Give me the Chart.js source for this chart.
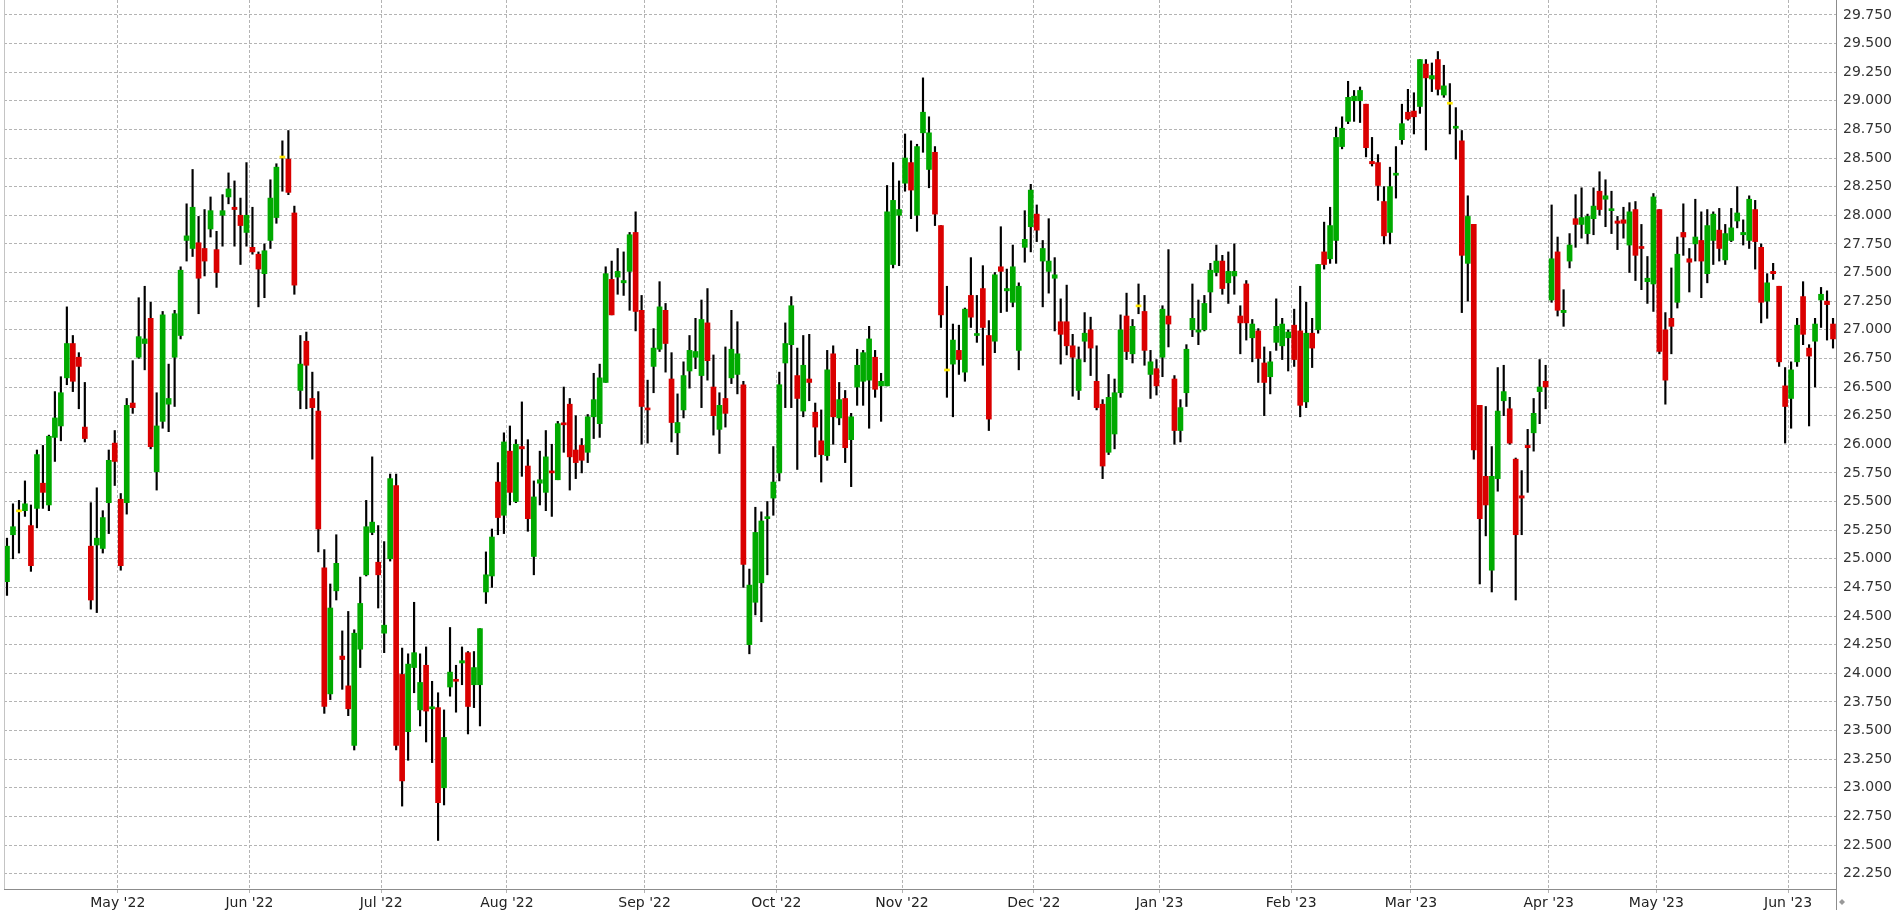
<!DOCTYPE html>
<html>
<head>
<meta charset="utf-8">
<script src="https://cdn.jsdelivr.net/npm/chart.js@4.4.1/dist/chart.umd.min.js"></script>
<style>
  html, body { margin: 0; padding: 0; background: #fff; }
  #wrap { width: 1895px; height: 914px; }
</style>
</head>
<body>
<div id="wrap"><canvas id="chart" width="1895" height="914"></canvas></div>
<script>
// trading days (weekdays minus exchange holidays)
const firstDay = '2022-04-01';
const lastDay = '2023-06-12';
const holidays = ['2022-04-15', '2022-04-18', '2022-12-26', '2023-04-07', '2023-04-10', '2023-05-01'];
const monthNames = ['Jan', 'Feb', 'Mar', 'Apr', 'May', 'Jun', 'Jul', 'Aug', 'Sep', 'Oct', 'Nov', 'Dec'];

const opens = [
  24.80,25.21,25.41,25.42,25.29,25.44,25.66,25.47,26.06,26.16,
  26.58,26.88,26.76,26.15,25.11,25.12,25.09,25.49,26.01,25.52,
  25.49,26.36,26.76,26.88,27.10,25.76,26.20,26.35,26.76,26.95,
  27.78,27.71,27.76,27.71,27.88,27.70,28.00,28.16,28.07,28.00,
  27.85,27.72,27.66,27.49,27.78,27.98,28.50,28.49,28.02,26.47,
  26.90,26.40,26.29,24.92,23.82,24.72,24.15,23.89,23.37,24.21,
  24.86,25.23,24.97,24.35,25.00,25.64,23.99,23.49,24.05,23.68,
  24.07,23.69,23.70,23.00,23.88,23.94,24.09,24.18,23.90,23.90,
  24.71,24.85,25.67,25.38,25.94,25.50,25.98,25.81,25.02,25.66,
  25.58,25.76,25.69,26.18,26.35,25.95,25.99,25.93,26.24,26.18,
  26.54,27.44,27.46,27.41,27.51,27.85,27.17,26.31,26.68,26.83,
  27.17,26.57,26.10,26.30,26.64,26.76,26.60,27.06,26.50,26.13,
  26.40,26.58,26.61,26.52,24.25,24.62,24.79,25.35,25.53,25.75,
  26.71,26.87,26.60,26.29,26.57,26.28,26.03,25.90,26.79,26.23,
  26.40,26.04,26.50,26.55,26.56,26.76,26.51,26.51,27.57,28.00,
  28.28,28.46,28.00,28.72,28.40,28.55,27.91,26.64,26.70,26.82,
  26.63,27.30,26.95,27.36,26.95,26.90,27.55,27.34,27.24,26.82,
  27.72,27.90,28.01,27.60,27.51,27.45,27.07,27.07,26.86,26.47,
  26.90,27.00,26.55,26.35,25.93,26.09,26.45,27.12,26.79,27.20,
  27.16,26.61,26.66,26.76,27.12,26.57,26.12,26.45,27.00,26.98,
  27.00,27.33,27.50,27.60,27.41,27.47,27.12,27.40,26.93,26.99,
  26.71,26.59,26.89,26.86,26.93,27.04,26.99,26.37,26.97,27.00,
  27.68,27.62,27.78,28.60,28.82,29.00,29.00,28.97,28.47,28.46,
  28.12,27.85,28.35,28.66,28.90,28.91,28.95,29.32,29.19,29.36,
  29.05,28.97,28.76,28.65,27.58,27.92,26.34,25.72,24.90,25.70,
  26.38,26.31,25.87,25.55,25.99,26.10,26.46,26.55,27.26,27.68,
  27.15,27.60,27.97,27.92,27.84,27.97,28.21,28.14,28.04,27.95,
  27.96,27.74,28.05,27.72,27.42,27.40,28.05,27.00,27.10,27.24,
  27.85,27.62,27.75,27.78,27.49,27.78,27.87,27.61,27.78,27.95,
  27.83,27.78,28.05,27.72,27.25,27.51,27.38,26.51,26.40,26.72,
  27.29,26.84,26.90,27.26,27.25,27.05
];
const highs = [
  25.18,25.48,25.51,25.68,25.47,25.95,25.99,26.08,26.46,26.59,
  27.20,26.95,26.80,26.54,25.49,25.62,25.42,25.95,26.12,25.57,
  26.40,26.73,27.28,27.38,27.24,26.45,27.16,26.70,27.17,27.55,
  28.10,28.40,27.99,28.05,28.16,27.86,28.18,28.37,28.30,28.15,
  28.46,28.07,27.68,27.75,28.31,28.45,28.65,28.74,28.08,26.95,
  26.98,26.63,26.46,25.08,24.78,25.21,24.37,24.54,24.38,24.84,
  25.51,25.89,25.29,25.15,25.74,25.74,24.22,24.17,24.62,24.17,
  24.23,23.93,23.83,23.68,24.40,24.07,24.23,24.19,24.19,24.39,
  25.06,25.26,25.84,26.10,26.16,26.04,26.37,26.04,25.68,25.94,
  26.12,26.00,26.20,26.50,26.40,26.25,26.05,26.26,26.62,26.70,
  27.55,27.60,27.71,27.68,27.85,28.03,27.30,26.56,27.01,27.42,
  27.23,26.80,26.44,26.72,26.95,27.10,27.26,27.36,26.78,26.45,
  26.85,27.17,27.07,26.55,24.91,25.45,25.41,25.50,25.98,26.63,
  27.06,27.29,26.84,26.95,26.96,26.36,26.30,26.82,26.86,26.54,
  26.47,26.27,26.83,26.82,27.03,26.82,26.62,28.26,28.46,28.30,
  28.71,28.65,28.62,29.20,28.86,28.60,27.91,27.38,27.05,27.04,
  27.19,27.63,27.30,27.56,27.08,27.50,27.90,27.53,27.74,27.41,
  28.04,28.27,28.09,27.78,27.97,27.63,27.27,27.39,26.96,26.85,
  27.15,27.11,26.86,26.39,26.61,26.57,27.13,27.32,27.09,27.40,
  27.30,26.82,26.74,27.21,27.70,26.60,26.39,26.87,27.40,27.26,
  27.30,27.58,27.74,27.65,27.68,27.75,27.21,27.43,27.09,27.01,
  26.85,26.81,27.27,27.10,27.00,27.18,27.38,27.24,27.10,27.57,
  27.94,28.07,28.77,28.86,29.17,29.09,29.12,28.97,28.68,28.53,
  28.25,28.42,28.60,28.97,29.10,29.07,29.36,29.36,29.33,29.43,
  29.31,29.15,28.94,28.74,28.17,27.92,26.34,26.33,25.98,26.67,
  26.69,26.41,25.88,25.77,26.13,26.40,26.74,26.69,28.09,27.81,
  27.35,27.84,28.18,28.24,28.01,28.24,28.38,28.31,28.21,27.99,
  28.07,28.11,28.12,27.92,27.64,28.19,28.05,27.15,27.54,27.81,
  28.10,27.71,28.14,28.03,28.05,28.03,28.06,27.92,28.06,28.25,
  27.96,28.17,28.13,27.75,27.49,27.58,27.38,26.67,26.72,27.10,
  27.42,26.87,27.10,27.37,27.34,27.10
];
const lows = [
  24.68,25.00,25.05,25.37,24.89,25.27,25.44,25.42,25.85,26.03,
  26.52,26.46,26.31,26.02,24.56,24.53,25.05,25.22,25.64,24.90,
  25.39,26.27,26.75,26.65,25.96,25.60,26.14,26.11,26.33,26.92,
  27.60,27.64,27.14,27.47,27.81,27.37,27.73,28.10,27.73,27.57,
  27.73,27.66,27.20,27.28,27.71,27.93,28.21,28.18,27.31,26.31,
  26.31,25.87,25.06,23.65,23.77,24.64,23.86,23.63,23.33,24.05,
  24.85,25.21,24.57,24.18,24.98,23.33,22.84,23.24,23.83,23.54,
  23.40,23.22,22.54,22.85,23.80,23.66,23.90,23.47,23.70,23.54,
  24.61,24.75,25.21,25.22,25.47,25.49,25.72,25.24,24.86,25.47,
  25.42,25.37,25.69,25.93,25.60,25.70,25.75,25.84,26.05,26.06,
  26.54,27.13,27.31,27.30,27.17,26.99,26.00,26.01,26.45,26.81,
  26.63,26.02,25.91,26.23,26.49,26.66,26.32,26.56,26.08,25.92,
  26.15,26.53,26.44,24.75,24.17,24.51,24.45,24.86,25.38,25.68,
  26.32,26.32,25.78,26.24,26.38,25.89,25.67,25.86,26.00,26.17,
  25.84,25.63,26.34,26.34,26.14,26.41,26.20,26.51,27.54,27.56,
  28.21,27.97,27.86,28.55,28.24,27.91,27.02,26.41,26.24,26.61,
  26.55,27.02,26.89,26.69,26.12,26.80,27.15,27.16,27.20,26.65,
  27.59,27.68,27.77,27.20,27.32,26.99,26.70,26.78,26.42,26.39,
  26.72,26.60,26.30,25.70,25.91,25.96,26.41,26.74,26.71,27.14,
  26.69,26.40,26.43,26.59,26.85,26.00,26.02,26.33,26.94,26.87,
  26.99,27.15,27.47,27.31,27.23,27.31,26.79,26.91,26.72,26.54,
  26.25,26.44,26.82,26.74,26.64,26.68,26.24,26.32,26.67,26.97,
  27.53,27.58,27.58,28.58,28.80,28.82,28.81,28.51,28.43,28.13,
  27.75,27.75,28.15,28.62,28.83,28.71,28.89,28.57,29.08,29.05,
  29.03,28.71,28.49,27.15,27.25,25.87,24.78,25.20,24.71,25.59,
  26.25,26.00,24.64,25.21,25.58,25.94,26.18,26.31,27.24,27.12,
  27.03,27.54,27.72,27.80,27.75,27.83,28.00,27.90,27.84,27.70,
  27.80,27.50,27.43,27.35,27.23,27.16,26.79,26.35,26.79,27.19,
  27.65,27.33,27.60,27.28,27.41,27.57,27.60,27.57,27.77,27.89,
  27.74,27.71,27.53,27.06,27.10,27.44,26.68,26.01,26.14,26.68,
  26.87,26.16,26.50,27.02,26.91,26.84
];
const closes = [
  25.11,25.28,25.41,25.48,24.94,25.91,25.58,26.07,26.23,26.45,
  26.88,26.55,26.68,26.05,24.64,25.18,25.36,25.86,25.85,24.94,
  26.34,26.32,26.94,26.92,25.98,26.16,27.13,26.40,27.14,27.52,
  27.82,28.07,27.45,27.60,28.04,27.50,28.04,28.23,28.05,27.91,
  28.00,27.68,27.53,27.69,28.15,28.42,28.50,28.20,27.39,26.70,
  26.69,26.32,25.26,23.71,24.57,24.96,24.12,23.69,24.35,24.61,
  25.28,25.32,24.86,24.42,25.70,23.37,23.06,24.08,24.18,23.92,
  23.67,23.70,22.87,23.44,24.01,23.93,24.11,23.71,24.05,24.39,
  24.86,25.19,25.36,26.02,25.58,26.00,25.96,25.35,25.54,25.69,
  25.89,25.75,26.18,26.17,25.89,25.84,25.86,26.24,26.39,26.58,
  27.49,27.13,27.51,27.43,27.83,27.16,26.33,26.30,26.84,27.20,
  26.88,26.19,26.19,26.60,26.82,26.81,27.09,26.73,26.25,26.34,
  26.27,26.83,26.79,24.95,24.77,25.23,25.33,25.36,25.67,26.52,
  26.88,27.21,26.40,26.69,26.54,26.15,25.91,26.65,26.24,26.39,
  25.97,26.24,26.69,26.80,26.92,26.48,26.55,28.03,28.13,28.05,
  28.50,28.22,28.60,28.90,28.72,28.01,27.13,26.64,26.91,26.74,
  27.18,27.11,26.96,27.02,26.22,27.48,27.51,27.36,27.55,27.38,
  27.79,28.22,27.87,27.71,27.60,27.48,26.96,26.86,26.76,26.74,
  26.97,26.84,26.32,25.81,26.41,26.45,27.00,26.81,27.03,27.20,
  26.82,26.72,26.51,27.18,27.05,26.12,26.32,26.83,27.10,26.99,
  27.23,27.52,27.60,27.36,27.51,27.51,27.06,27.06,27.05,26.75,
  26.54,26.72,27.03,27.05,26.98,26.74,26.34,26.97,26.84,27.57,
  27.57,27.91,28.68,28.76,29.03,29.04,29.09,28.59,28.45,28.26,
  27.82,28.25,28.36,28.80,28.84,28.86,29.36,29.20,29.22,29.10,
  29.13,28.97,28.77,27.65,27.99,25.95,25.35,25.47,25.72,26.29,
  26.46,26.01,25.21,25.53,25.97,26.27,26.50,26.50,27.62,27.17,
  27.17,27.74,27.92,27.98,27.99,28.08,28.05,28.17,28.05,27.93,
  27.93,28.03,27.65,27.71,27.45,28.16,26.81,26.56,27.03,27.66,
  27.81,27.59,27.81,27.60,27.91,28.01,27.71,27.84,27.89,28.02,
  27.85,28.14,27.77,27.24,27.41,27.49,26.72,26.33,26.65,27.04,
  26.96,26.77,27.05,27.31,27.22,26.92
];

const yMin = 22.116;
const yMax = 29.88;
const yStep = 0.25;

const upColor = 'rgb(0,170,0)';
const downColor = 'rgb(218,0,0)';
const flatColor = 'rgb(255,232,0)';
const gridColor = '#b4b4b4';
const axisColor = '#8c8c8c';
const fontFamily = '"DejaVu Sans", Verdana, sans-serif';

const tradingDays = (from, to) => {
    const out = [];
    const d = new Date(from + 'T00:00:00Z');
    const end = new Date(to + 'T00:00:00Z');
    while (d <= end) {
        const iso = d.toISOString().slice(0, 10);
        const wd = d.getUTCDay();
        if (wd !== 0 && wd !== 6 && !holidays.includes(iso)) out.push(iso);
        d.setUTCDate(d.getUTCDate() + 1);
    }
    return out;
}

const dates = tradingDays(firstDay, lastDay);
const isMonthStart = dates.map((d, i) => i > 0 && d.slice(0, 7) !== dates[i - 1].slice(0, 7));
const monthLabel = d => monthNames[+d.slice(5, 7) - 1] + " '" + d.slice(2, 4);

const bodyColors = opens.map((o, i) => closes[i] > o ? upColor : (closes[i] < o ? downColor : flatColor));

const noPadding = scale => {
    scale.paddingTop = 0;
    scale.paddingBottom = 0;
    scale.paddingLeft = 0;
    scale.paddingRight = 0;
}

const framePlugin = {
    id: 'frame',
    afterDraw(chart) {
        const {ctx, chartArea: a} = chart;
        ctx.save();
        ctx.lineWidth = 1;
        ctx.strokeStyle = '#c4c4c4';
        ctx.beginPath();
        ctx.moveTo(Math.round(a.left) + 0.5, a.top);
        ctx.lineTo(Math.round(a.left) + 0.5, a.bottom);
        ctx.stroke();
        ctx.strokeStyle = axisColor;
        ctx.beginPath();
        ctx.moveTo(a.left, Math.round(a.bottom) + 0.5);
        ctx.lineTo(a.right, Math.round(a.bottom) + 0.5);
        ctx.moveTo(Math.round(a.right) + 0.5, a.top);
        ctx.lineTo(Math.round(a.right) + 0.5, a.bottom + 21);
        ctx.stroke();
        // little marker in the corner
        const mx = a.right + 6, my = a.bottom + 13;
        ctx.fillStyle = '#999';
        ctx.beginPath();
        ctx.moveTo(mx - 3, my);
        ctx.lineTo(mx, my - 3);
        ctx.lineTo(mx + 3, my);
        ctx.lineTo(mx, my + 3);
        ctx.closePath();
        ctx.fill();
        ctx.restore();
    }
};

Chart.defaults.font.family = fontFamily;

new Chart(document.getElementById('chart'), {
    type: 'bar',
    data: {
        labels: dates,
        datasets: [
            {
                label: 'Body',
                data: opens.map((o, i) => [o, closes[i]]),
                backgroundColor: bodyColors,
                barThickness: 5,
                minBarLength: 2,
                grouped: false,
                order: 0
            },
            {
                label: 'Wick',
                data: lows.map((l, i) => [l, highs[i]]),
                backgroundColor: '#000',
                barThickness: 1.5,
                grouped: false,
                order: 1
            }
        ]
    },
    options: {
        responsive: false,
        devicePixelRatio: 1,
        animation: false,
        layout: {padding: {left: 4, top: 0, right: 0, bottom: 0}},
        plugins: {
            legend: {display: false},
            tooltip: {enabled: false}
        },
        scales: {
            x: {
                type: 'category',
                offset: true,
                afterFit: scale => { scale.height = 25; noPadding(scale); },
                border: {display: false, dash: [3, 2]},
                grid: {
                    offset: true,
                    color: ctx => isMonthStart[ctx.index] ? gridColor : 'rgba(0,0,0,0)',
                    tickColor: ctx => isMonthStart[ctx.index] ? gridColor : 'rgba(0,0,0,0)',
                    tickLength: 4,
                    tickBorderDash: []
                },
                ticks: {
                    autoSkip: false,
                    maxRotation: 0,
                    minRotation: 0,
                    padding: 2,
                    labelOffset: -2.99,
                    color: '#222',
                    font: {size: 14},
                    callback: (val, i) => isMonthStart[i] ? monthLabel(dates[i]) : ''
                }
            },
            y: {
                type: 'linear',
                position: 'right',
                min: yMin,
                max: yMax,
                afterFit: scale => { scale.width = 59; noPadding(scale); },
                afterBuildTicks: scale => {
                    scale.ticks = scale.ticks.filter(t => Math.abs(t.value / yStep - Math.round(t.value / yStep)) < 1e-6);
                },
                border: {display: false, dash: [3, 2]},
                grid: {
                    color: gridColor,
                    drawTicks: false
                },
                ticks: {
                    stepSize: yStep,
                    includeBounds: false,
                    padding: 7,
                    color: '#333',
                    font: {size: 14},
                    callback: v => v.toFixed(3)
                }
            }
        }
    },
    plugins: [framePlugin]
});
</script>
</body>
</html>
